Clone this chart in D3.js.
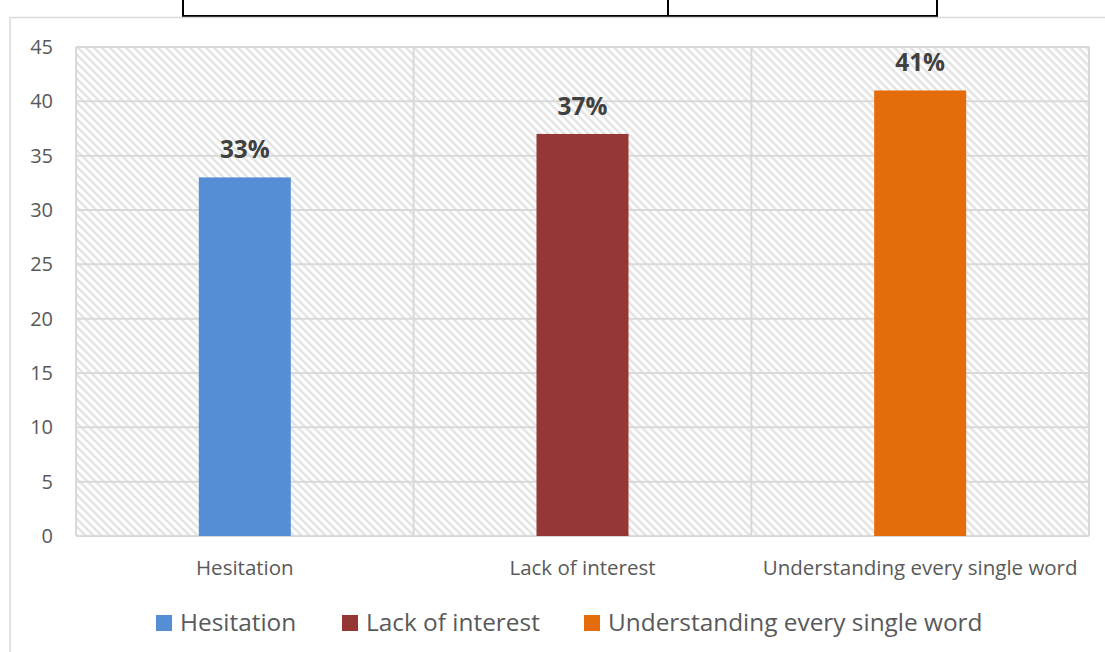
<!DOCTYPE html>
<html><head><meta charset="utf-8">
<script src="https://cdn.jsdelivr.net/npm/d3@7"></script>
<style>body{margin:0;background:#fff}svg{display:block}</style>
</head><body><svg id="c" width="1105" height="652"></svg>
<script>
const categories = ["Hesitation", "Lack of interest", "Understanding every single word"];
const values = [33, 37, 41];
const valueLabels = ["33%", "37%", "41%"];
const colors = ["#558ED5", "#953735", "#E46C0A"];
const yTicks = [0, 5, 10, 15, 20, 25, 30, 35, 40, 45];

const svg = d3.select("#c");
const font = "'Open Sans', 'Noto Sans', sans-serif";
const m = {left: 76, top: 47, right: 1089, bottom: 536};

// top table lines
const tableLines = svg.append("g").attr("stroke", "#000").attr("stroke-width", 2).attr("fill", "none");
tableLines.append("path").attr("d", "M183,0 V16 H937 V0 M668,0 V16");

// chart frame
svg.append("path").attr("d", "M10,652 V17.5 H1105").attr("fill", "none").attr("stroke", "#d9d9d9").attr("stroke-width", 1.5);

const defs = svg.append("defs");
const pat = defs.append("pattern").attr("id", "hatch").attr("patternUnits", "userSpaceOnUse")
  .attr("width", 5.66).attr("height", 5.66).attr("patternTransform", "rotate(45)");
pat.append("rect").attr("width", 5.66).attr("height", 5.66).attr("fill", "#fff");
pat.append("rect").attr("width", 5.66).attr("height", 2.4).attr("fill", "#e2e2e2");

const x = d3.scaleBand().domain(categories).range([m.left, m.right]).paddingInner(0).paddingOuter(0);
const y = d3.scaleLinear().domain([0, 45]).range([m.bottom, m.top]);

svg.append("rect").attr("x", m.left).attr("y", m.top).attr("width", m.right - m.left).attr("height", m.bottom - m.top)
  .attr("fill", "url(#hatch)");

// horizontal gridlines
svg.append("g").selectAll("line").data(yTicks).join("line")
  .attr("x1", m.left).attr("x2", m.right).attr("y1", d => y(d)).attr("y2", d => y(d))
  .attr("stroke", "#d9d9d9").attr("stroke-width", 2);
// vertical gridlines
const vx = [m.left].concat(categories.map(c => x(c) + x.bandwidth()));
svg.append("g").selectAll("line").data(vx).join("line")
  .attr("x1", d => d).attr("x2", d => d).attr("y1", m.top).attr("y2", m.bottom)
  .attr("stroke", "#d9d9d9").attr("stroke-width", 2);

// y axis labels
const yAxis = d3.axisLeft(y).tickValues(yTicks).tickSize(0).tickPadding(23);
const ya = svg.append("g").attr("transform", `translate(${m.left},0)`).call(yAxis);
ya.select(".domain").remove();
ya.selectAll("text").attr("font-family", font).attr("font-size", 20).attr("fill", "#595959");

// x axis labels
const xAxis = d3.axisBottom(x).tickSize(0).tickPadding(24);
const xa = svg.append("g").attr("transform", `translate(0,${m.bottom})`).call(xAxis);
xa.select(".domain").remove();
xa.selectAll("text").attr("font-family", font).attr("font-size", 20.5).attr("fill", "#595959");

// bars
const bw = 92;
const data = categories.map((c, i) => ({c, v: values[i], l: valueLabels[i], col: colors[i]}));
svg.append("g").selectAll("rect").data(data).join("rect")
  .attr("x", d => x(d.c) + x.bandwidth() / 2 - bw / 2).attr("width", bw)
  .attr("y", d => y(d.v)).attr("height", d => y(0) - y(d.v)).attr("fill", d => d.col);

svg.append("g").selectAll("text").data(data).join("text")
  .attr("x", d => x(d.c) + x.bandwidth() / 2).attr("y", d => y(d.v) - 19)
  .attr("text-anchor", "middle").attr("font-family", font).attr("font-weight", "bold")
  .attr("font-size", 24.4).attr("fill", "#404040").text(d => d.l);

// legend
const legendX = [156, 342, 584];
const lg = svg.append("g").selectAll("g").data(data).join("g")
  .attr("transform", (d, i) => `translate(${legendX[i]},615)`);
lg.append("rect").attr("width", 16).attr("height", 16).attr("fill", d => d.col);
lg.append("text").attr("x", 24).attr("y", 16).attr("font-family", font).attr("font-size", 24.4)
  .attr("fill", "#595959").text(d => d.c);
</script></body></html>
